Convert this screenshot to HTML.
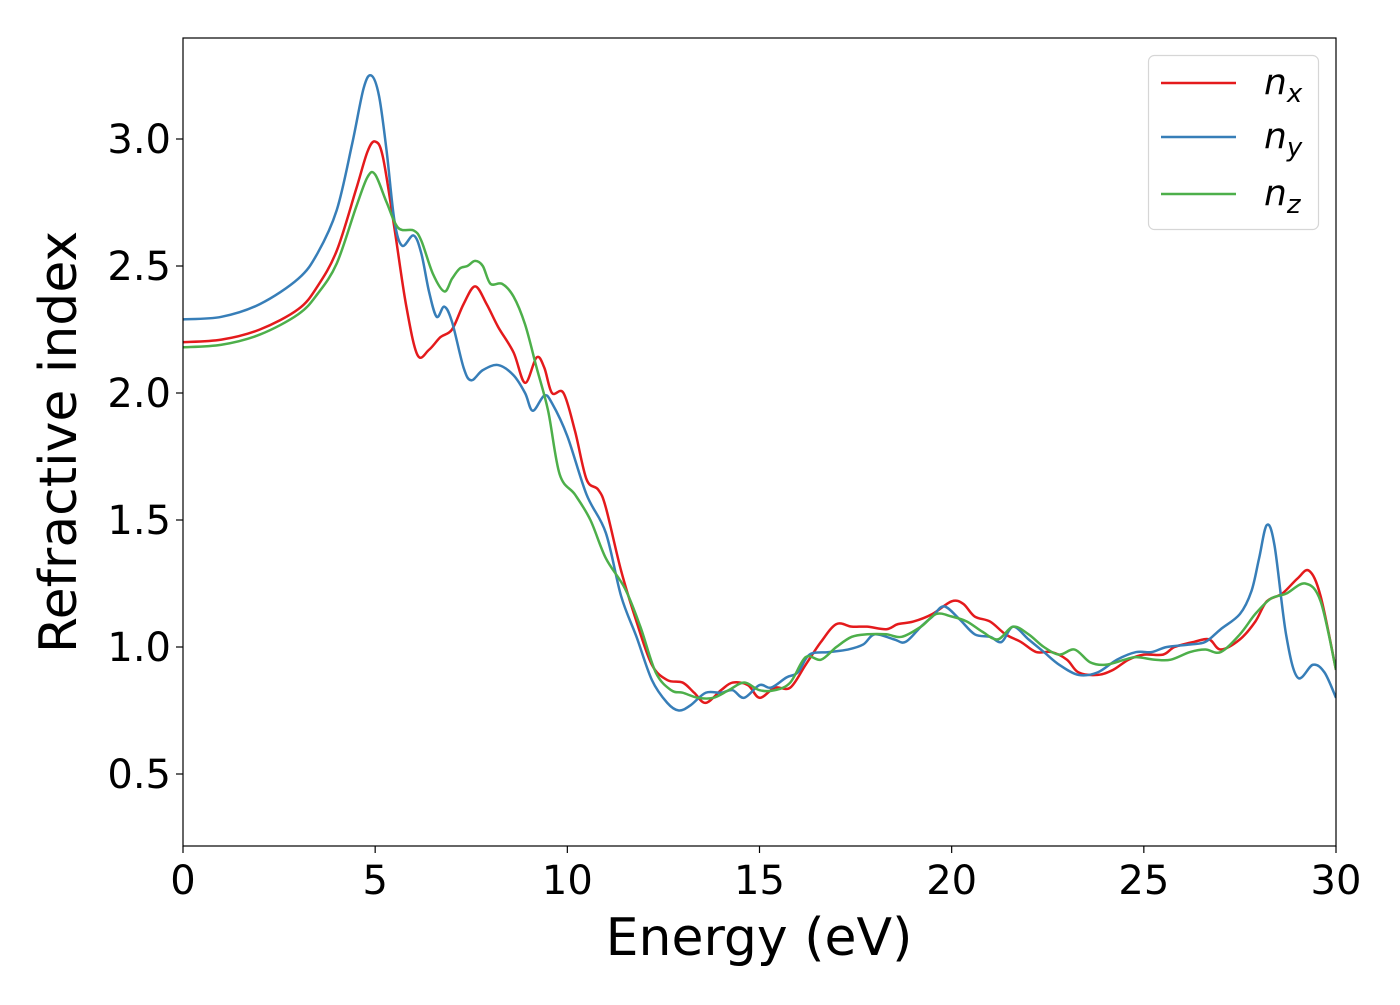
<!DOCTYPE html>
<html><head><meta charset="utf-8"><style>
body{margin:0;background:#fff;}
svg text{font-family:"DejaVu Sans","Liberation Sans",sans-serif;}
</style></head><body>
<svg id="chart" width="1400" height="1000" xmlns="http://www.w3.org/2000/svg">
<g id="plot"></g>
</svg>
<script>
const nxE=[0,1,2,3,3.5,4,4.5,4.8,5.0,5.2,5.5,5.8,6.1,6.4,6.7,7.0,7.3,7.6,7.9,8.2,8.6,8.9,9.2,9.4,9.6,9.9,10.2,10.5,10.8,11.0,11.4,11.8,12.2,12.6,13.0,13.3,13.6,14.0,14.3,14.7,15.0,15.4,15.8,16.2,16.6,17.0,17.4,17.8,18.3,18.6,19.0,19.5,20.0,20.3,20.6,21.0,21.4,21.8,22.2,22.6,23.0,23.3,23.8,24.2,24.6,25.0,25.5,25.8,26.3,26.7,27.0,27.5,27.9,28.2,28.6,29.0,29.3,29.6,30];
const nxV=[2.20,2.21,2.25,2.33,2.42,2.56,2.80,2.95,2.99,2.93,2.65,2.35,2.15,2.17,2.22,2.25,2.35,2.42,2.35,2.26,2.16,2.04,2.14,2.10,2.00,2.00,1.85,1.66,1.62,1.55,1.30,1.10,0.93,0.87,0.86,0.82,0.78,0.83,0.86,0.85,0.80,0.84,0.84,0.93,1.02,1.09,1.08,1.08,1.07,1.09,1.10,1.13,1.18,1.17,1.12,1.10,1.05,1.02,0.98,0.98,0.95,0.90,0.89,0.91,0.95,0.97,0.97,1.00,1.02,1.03,0.99,1.03,1.10,1.18,1.21,1.27,1.30,1.20,0.91];
const nyE=[0,1,2,3,3.5,4,4.4,4.7,4.9,5.1,5.3,5.5,5.7,6.0,6.2,6.4,6.6,6.8,7.0,7.3,7.5,7.8,8.2,8.6,8.9,9.1,9.4,9.6,10.0,10.5,11.0,11.4,11.8,12.2,12.6,12.9,13.2,13.6,14.0,14.3,14.6,15.0,15.3,15.7,16.0,16.3,16.8,17.3,17.7,18.0,18.5,18.8,19.2,19.5,19.8,20.2,20.6,21.0,21.3,21.6,22.0,22.4,22.8,23.3,23.8,24.3,24.8,25.2,25.6,26.2,26.6,27.0,27.5,27.8,28.0,28.2,28.4,28.7,29.0,29.4,29.7,30];
const nyV=[2.29,2.30,2.35,2.45,2.55,2.72,2.98,3.20,3.25,3.17,2.95,2.68,2.58,2.62,2.55,2.40,2.30,2.34,2.28,2.10,2.05,2.09,2.11,2.07,2.00,1.93,1.99,1.96,1.83,1.60,1.45,1.20,1.04,0.87,0.78,0.75,0.77,0.82,0.82,0.83,0.80,0.85,0.84,0.88,0.90,0.97,0.98,0.99,1.01,1.05,1.03,1.02,1.08,1.12,1.16,1.11,1.05,1.04,1.02,1.08,1.03,0.98,0.93,0.89,0.90,0.95,0.98,0.98,1.00,1.01,1.02,1.07,1.13,1.22,1.35,1.48,1.40,1.05,0.88,0.93,0.90,0.80];
const nzE=[0,1,2,3,3.5,4,4.5,4.8,5.0,5.3,5.6,6.0,6.2,6.5,6.8,7.0,7.2,7.4,7.6,7.8,8.0,8.3,8.6,8.9,9.2,9.5,9.8,10.2,10.6,11.0,11.5,11.9,12.3,12.7,13.0,13.4,13.8,14.2,14.6,15.0,15.4,15.8,16.2,16.6,17.0,17.4,17.8,18.3,18.7,19.2,19.6,20.0,20.4,20.8,21.2,21.6,22.0,22.4,22.8,23.2,23.6,24.0,24.5,24.8,25.3,25.7,26.2,26.6,27.0,27.5,27.9,28.3,28.7,29.2,29.6,30];
const nzV=[2.18,2.19,2.23,2.31,2.39,2.51,2.73,2.85,2.86,2.75,2.65,2.64,2.60,2.47,2.40,2.45,2.49,2.50,2.52,2.50,2.43,2.43,2.38,2.27,2.10,1.93,1.68,1.60,1.50,1.35,1.23,1.08,0.90,0.83,0.82,0.80,0.80,0.83,0.86,0.83,0.83,0.86,0.96,0.95,1.00,1.04,1.05,1.05,1.04,1.08,1.13,1.12,1.10,1.06,1.03,1.08,1.05,1.00,0.97,0.99,0.94,0.93,0.95,0.96,0.95,0.95,0.98,0.99,0.98,1.05,1.13,1.19,1.21,1.25,1.18,0.91];
const xTicks=[0,5,10,15,20,25,30];
const yTicks=[0.5,1.0,1.5,2.0,2.5,3.0];
const yTickLabels=["0.5","1.0","1.5","2.0","2.5","3.0"];

const L=183,R=1336,T=38,B=846;
const X=v=>L+(v-0)/(30-0)*(R-L);
const Y=v=>774-(v-0.5)*254;
const NS="http://www.w3.org/2000/svg";
const g=document.getElementById('plot');
function mk(tag,attrs,parent){const e=document.createElementNS(NS,tag);for(const k in attrs)e.setAttribute(k,attrs[k]);(parent||g).appendChild(e);return e;}
function smooth(xs,ys){
  const p=xs.map((x,i)=>[X(x),Y(ys[i])]);
  let d=`M${p[0][0]},${p[0][1]}`;
  for(let i=0;i<p.length-1;i++){
    const p0=p[Math.max(0,i-1)],p1=p[i],p2=p[i+1],p3=p[Math.min(p.length-1,i+2)];
    const c1=[p1[0]+(p2[0]-p0[0])/6,p1[1]+(p2[1]-p0[1])/6];
    const c2=[p2[0]-(p3[0]-p1[0])/6,p2[1]-(p3[1]-p1[1])/6];
    d+=`C${c1[0]},${c1[1]} ${c2[0]},${c2[1]} ${p2[0]},${p2[1]}`;
  }
  return d;
}
const clip=mk('clipPath',{id:'cp'});mk('rect',{x:L,y:T,width:R-L,height:B-T},clip);
const series=[[nxE,nxV,'#e41a1c','series-nx'],[nyE,nyV,'#377eb8','series-ny'],[nzE,nzV,'#4daf4a','series-nz']];
series.forEach(s=>{
  const p=mk('path',{d:smooth(s[0],s[1]),fill:'none',stroke:s[2],'stroke-width':2.5,'clip-path':'url(#cp)'});
  
  
});
const frame=mk('rect',{x:L,y:T,width:R-L,height:B-T,fill:'none',stroke:'#000','stroke-width':1.2});


xTicks.forEach(t=>{
  const l=mk('line',{x1:X(t),x2:X(t),y1:B,y2:B+7,stroke:'#000','stroke-width':1.2});
  
  
  const tx=mk('text',{x:X(t),y:B+48,'text-anchor':'middle','font-size':40});
  tx.textContent=String(t);
  
  
});
yTicks.forEach((t,i)=>{
  const l=mk('line',{x1:L-7,x2:L,y1:Y(t),y2:Y(t),stroke:'#000','stroke-width':1.2});
  
  
  const tx=mk('text',{x:L-12,y:Y(t)+14,'text-anchor':'end','font-size':40});
  tx.textContent=yTickLabels[i];
  
  
});
const xl=mk('text',{x:759,y:955,'text-anchor':'middle','font-size':52});
xl.textContent='Energy (eV)';


const yl=mk('text',{x:0,y:0,'text-anchor':'middle','font-size':52,transform:'translate(76,442) rotate(-90)'});
yl.textContent='Refractive index';


// legend
const lg=mk('g',{});


mk('rect',{x:1148.5,y:55.5,width:170,height:174,rx:6,fill:'#fff','fill-opacity':0.8,stroke:'#d6d6d6','stroke-width':1.2},lg);
const labs=['x','y','z'],ly=[83,137,194];
series.forEach((s,i)=>{
  const e=mk('g',{},lg);
  
  
  mk('line',{x1:1161,x2:1236,y1:ly[i],y2:ly[i],stroke:s[2],'stroke-width':2.5},e);
  const t=mk('text',{x:1264,y:ly[i]+11,'font-size':36,'font-style':'italic'},e);
  t.innerHTML='n<tspan font-size="26" dy="8">'+labs[i]+'</tspan>';
});
</script>
</body></html>
